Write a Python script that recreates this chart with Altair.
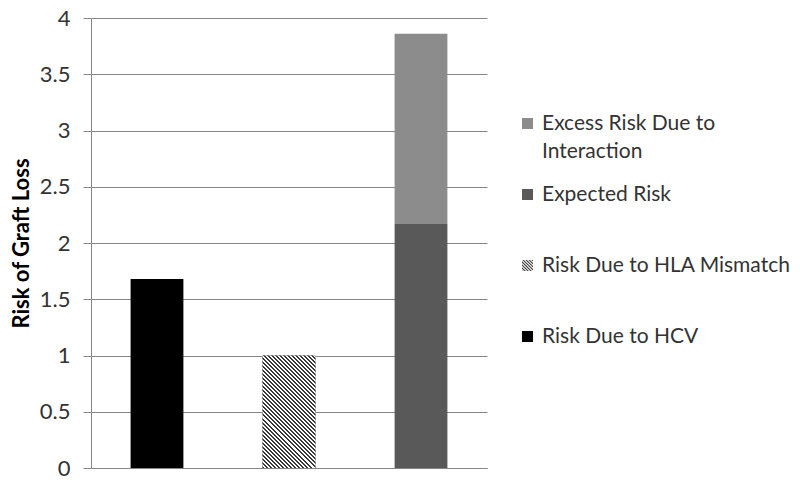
import altair as alt
import pandas as pd

# ---- data ----
categories = ["HCV", "HLA Mismatch", "HCV + HLA Mismatch"]
components = ["Risk Due to HCV", "Risk Due to HLA Mismatch", "Expected Risk",
              "Excess Risk Due to Interaction"]
component_category = ["HCV", "HLA Mismatch", "HCV + HLA Mismatch", "HCV + HLA Mismatch"]
values = [1.68, 1.00, 2.17, 1.69]

legend_order = ["Excess Risk Due to Interaction", "Expected Risk",
                "Risk Due to HLA Mismatch", "Risk Due to HCV"]
legend_colors = ["#8c8c8c", "#595959", "#3c3c3c", "#000000"]
y_ticks = [0, 0.5, 1, 1.5, 2, 2.5, 3, 3.5, 4]

df = pd.DataFrame({"category": component_category, "component": components, "value": values})
df["end"] = df.groupby("category")["value"].cumsum()
df["start"] = df["end"] - df["value"]
df["mid"] = (df["start"] + df["end"]) / 2

PLOT_W, PLOT_H = 396, 450
FONT = "Lato"
SYM = 121
LINE_H = 28
BW = PLOT_W / 3 * 0.4


def diagonal_stripes(seg_value, n, dark, light):
    """Hard-stop linear gradient giving 45-degree stripes on a bar segment."""
    h = seg_value * PLOT_H / 4
    c = (BW + h) / (BW * BW + h * h)
    stops = []
    for i in range(n):
        a, b, e = i / n, (i + 0.5) / n, (i + 1) / n
        stops += [alt.GradientStop(offset=a, color=dark),
                  alt.GradientStop(offset=b, color=dark),
                  alt.GradientStop(offset=b, color=light),
                  alt.GradientStop(offset=e, color=light)]
    return alt.LinearGradient(gradient="linear", x1=0, y1=1, x2=c * BW, y2=1 - c * h, stops=stops)


hatch_hla = diagonal_stripes(values[1], 41, "#3a3a3a", "#ffffff")

# ---- striped legend symbol path ----
def clip(poly, f):
    out = []
    for i in range(len(poly)):
        p, q = poly[i], poly[(i + 1) % len(poly)]
        fp, fq = f(p), f(q)
        if fp >= 0:
            out.append(p)
        if (fp >= 0) != (fq >= 0):
            t = fp / (fp - fq)
            out.append((p[0] + t * (q[0] - p[0]), p[1] + t * (q[1] - p[1])))
    return out

square = [(-1, -1), (1, -1), (1, 1), (-1, 1)]
parts = []
k = -2.0
while k < 2.0:
    poly = clip(square, lambda p, k=k: (p[1] - p[0]) - k)
    poly = clip(poly, lambda p, k=k: (k + 0.28) - (p[1] - p[0]))
    if len(poly) >= 3:
        parts.append("M" + "L".join(f"{x:.3f},{y:.3f}" for x, y in poly) + "Z")
    k += 0.55
stripe_path = "".join(parts)
legend_shapes = ["square", "square", stripe_path, "square"]

x_enc = alt.X("category:N", sort=categories,
              scale=alt.Scale(paddingInner=0.6, paddingOuter=0.3),
              axis=alt.Axis(title=None, labels=False, ticks=False, domainColor="#868686"))
y_scale = alt.Scale(domain=[0, 4], nice=False)

base = alt.Chart(df)

legend_points = base.mark_point(filled=True, size=SYM, opacity=1).encode(
    x=x_enc,
    y=alt.Y("mid:Q", scale=y_scale),
    color=alt.Color("component:N",
                    scale=alt.Scale(domain=legend_order, range=legend_colors),
                    legend=alt.Legend(
                        orient="none", legendX=426, legendY=95, title=None,
                        symbolSize=SYM, symbolStrokeWidth=0, gridAlign="all",
                        labelFont=FONT, labelFontSize=21, labelColor="#333333",
                        labelLimit=400, rowPadding=21, padding=0, labelOffset=4,
                        labelExpr="datum.label == 'Excess Risk Due to Interaction' ? ['Excess Risk Due to', 'Interaction'] : datum.label")),
    shape=alt.Shape("component:N",
                    scale=alt.Scale(domain=legend_order, range=legend_shapes)),
)

bars = base.mark_bar(size=BW).encode(
    x=x_enc,
    y=alt.Y("start:Q", scale=y_scale,
            axis=alt.Axis(title="Risk of Graft Loss", values=y_ticks, format="~g",
                          grid=True, gridColor="#868686", domainColor="#868686",
                          tickColor="#868686", tickSize=8, labelPadding=13,
                          labelFont=FONT, labelFontSize=22, labelColor="#333333",
                          titleFont=FONT, titleFontSize=22, titleFontWeight="bold",
                          titleColor="#000000", titlePadding=6)),
    y2="end:Q",
    color=alt.Color("component:N",
                    scale=alt.Scale(domain=legend_order, range=legend_colors)),
)

hla = base.transform_filter(alt.datum.component == "Risk Due to HLA Mismatch").mark_bar(
    size=BW, fill=hatch_hla).encode(
    x=x_enc,
    y=alt.Y("start:Q", scale=y_scale),
    y2="end:Q",
)

chart = alt.layer(legend_points, bars, hla).properties(
    width=PLOT_W, height=PLOT_H,
    autosize=alt.AutoSizeParams(type="none"),
    padding={"left": 83, "top": 10, "right": 305, "bottom": 10},
).configure(
    style={"guide-label": {"lineHeight": LINE_H}},
    view=alt.ViewConfig(stroke=None),
    axis=alt.AxisConfig(grid=False),
)

chart.save("out.html", embed_options={"renderer": "svg", "actions": False})
